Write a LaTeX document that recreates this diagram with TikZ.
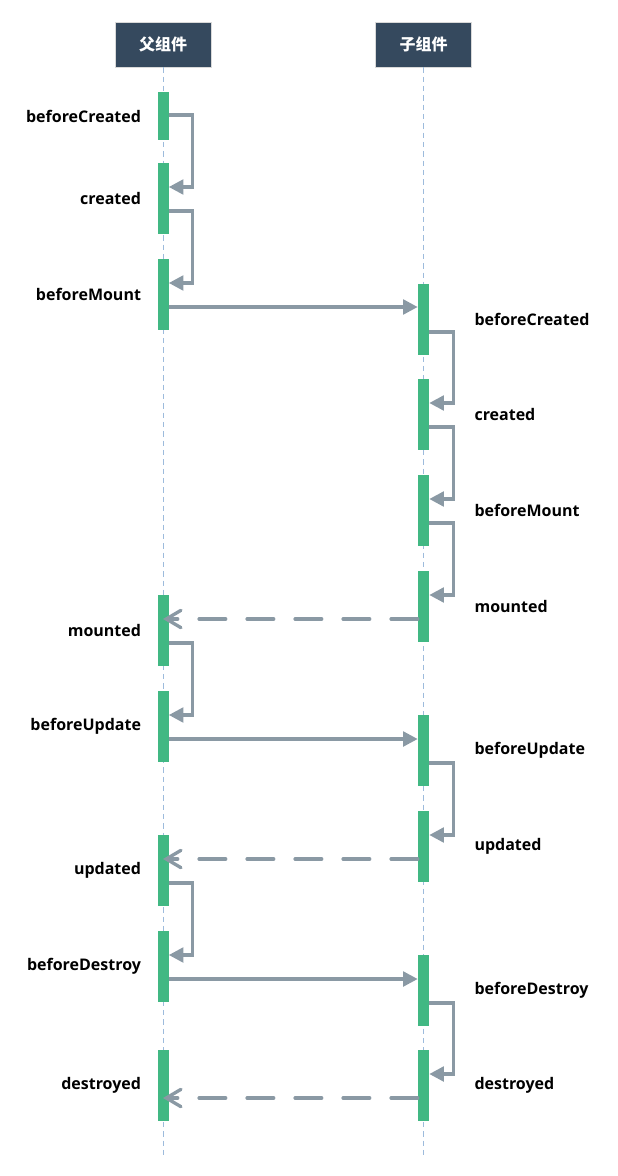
\documentclass[tikz,border=0pt]{standalone}
\usepackage{fontspec}
\setmainfont{Open Sans}
\newfontfamily\cjk{Noto Sans CJK SC}
\usetikzlibrary{positioning, arrows.meta, calc}
\definecolor{vuedark}{HTML}{35495E}
\definecolor{vuegreen}{HTML}{41B883}
\definecolor{msggrey}{HTML}{8A99A4}
\definecolor{lifeblue}{HTML}{9DBBDC}
\tikzset{%
  head/.style={draw=gray!30, fill=vuedark, text=white, font=\cjk\bfseries\fontsize{12pt}{14pt}\selectfont,
    minimum width=72pt, minimum height=33.75pt, inner sep=0pt},
  life/.style={draw=lifeblue, line width=0.75pt, dash pattern=on 4pt off 3pt},
  bar/.style={fill=vuegreen, draw=none, minimum width=8.25pt, minimum height=53.25pt, inner sep=0pt, anchor=north},
  hook/.style={font=\bfseries\fontsize{12pt}{14pt}\selectfont, inner sep=0pt},
  call/.style={draw=msggrey, line width=2.5pt, -{Triangle[length=11pt, width=11pt]}},
  back/.style={draw=msggrey, line width=2.5pt, line cap=round, dash pattern=on 20pt off 16pt,
    -{Straight Barb[length=11pt, width=13pt, line cap=round]}}
}

\begin{document}
\begin{tikzpicture}[x=0.75pt, y=-0.75pt]
\useasboundingbox (0,0) rectangle (617,1176);

% lifelines
\node[head] (parent) at (163,44.5) {父组件};
\node[head] (child) at (423.5,44.5) {子组件};
\coordinate (pend) at (163,1155);
\coordinate (cend) at (423.5,1155);
\draw[life] (parent) -- (pend);
\draw[life] (child) -- (cend);

% parent bars
\node[bar, minimum height=36pt] (p1) at (163,92) {};
\node[bar] (p2) at (163,163) {};
\node[bar] (p3) at (163,259) {};
\node[bar] (p4) at (163,595) {};
\node[bar] (p5) at (163,691) {};
\node[bar] (p6) at (163,835) {};
\node[bar] (p7) at (163,931) {};
\node[bar] (p8) at (163,1050) {};

% child bars
\node[bar] (c1) at (423.5,284) {};
\node[bar] (c2) at (423.5,379) {};
\node[bar] (c3) at (423.5,475) {};
\node[bar] (c4) at (423.5,571) {};
\node[bar] (c5) at (423.5,715) {};
\node[bar] (c6) at (423.5,811) {};
\node[bar] (c7) at (423.5,955) {};
\node[bar] (c8) at (423.5,1050) {};

% hook names
\node[hook, left=12pt of p1] (lp1) {beforeCreated};
\node[hook, left=12pt of p2] (lp2) {created};
\node[hook, left=12pt of p3] (lp3) {beforeMount};
\node[hook, left=12pt of p4] (lp4) {mounted};
\node[hook, left=12pt of p5] (lp5) {beforeUpdate};
\node[hook, left=12pt of p6] (lp6) {updated};
\node[hook, left=12pt of p7] (lp7) {beforeDestroy};
\node[hook, left=12pt of p8] (lp8) {destroyed};

\node[hook, right=33.75pt of c1] (lc1) {beforeCreated};
\node[hook, right=33.75pt of c2] (lc2) {created};
\node[hook, right=33.75pt of c3] (lc3) {beforeMount};
\node[hook, right=33.75pt of c4] (lc4) {mounted};
\node[hook, right=33.75pt of c5] (lc5) {beforeUpdate};
\node[hook, right=33.75pt of c6] (lc6) {updated};
\node[hook, right=33.75pt of c7] (lc7) {beforeDestroy};
\node[hook, right=33.75pt of c8] (lc8) {destroyed};

% parent to itself
\draw[call] ($(p1.north east)+(0,23)$) -- ++(24,0) |- ($(p2.north east)+(0,24)$);
\draw[call] ($(p2.north east)+(0,48)$) -- ++(24,0) |- ($(p3.north east)+(0,24)$);
\draw[call] ($(p4.north east)+(0,48)$) -- ++(24,0) |- ($(p5.north east)+(0,24)$);
\draw[call] ($(p6.north east)+(0,48)$) -- ++(24,0) |- ($(p7.north east)+(0,24)$);

% child to itself
\draw[call] ($(c1.north east)+(0,48)$) -- ++(24,0) |- ($(c2.north east)+(0,24)$);
\draw[call] ($(c2.north east)+(0,48)$) -- ++(24,0) |- ($(c3.north east)+(0,24)$);
\draw[call] ($(c3.north east)+(0,48)$) -- ++(24,0) |- ($(c4.north east)+(0,24)$);
\draw[call] ($(c5.north east)+(0,48)$) -- ++(24,0) |- ($(c6.north east)+(0,24)$);
\draw[call] ($(c7.north east)+(0,48)$) -- ++(24,0) |- ($(c8.north east)+(0,24)$);

% parent to child
\draw[call] ($(p3.north east)+(0,48)$) -- ($(c1.north west)+(0,23)$);
\draw[call] ($(p5.north east)+(0,48)$) -- ($(c5.north west)+(0,24)$);
\draw[call] ($(p7.north east)+(0,48)$) -- ($(c7.north west)+(0,24)$);

% child back to parent
\draw[back] ($(c4.north west)+(0,48)$) -- ($(p4.north)+(0,24)$);
\draw[back] ($(c6.north west)+(0,48)$) -- ($(p6.north)+(0,24)$);
\draw[back] ($(c8.north west)+(0,48)$) -- ($(p8.north)+(0,48)$);

\end{tikzpicture}
\end{document}
